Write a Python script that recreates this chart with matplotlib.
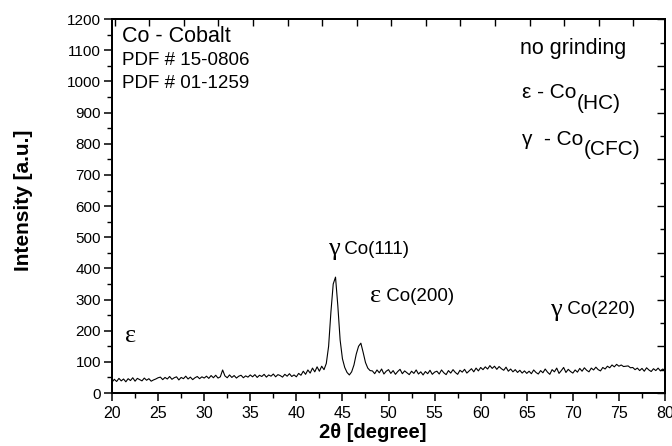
import numpy as np
import matplotlib
matplotlib.use("Agg")
import matplotlib.pyplot as plt
from matplotlib.ticker import MultipleLocator

plt.rcParams['font.family'] = ['Liberation Sans', 'DejaVu Sans']

# ---- data ----
two_theta = np.arange(20.0, 80.001, 0.25)
intensity = [
    # 20.00 - 25.00
    35, 44, 37, 47, 39, 45, 36, 46, 40, 49, 38, 47, 43, 39, 48, 41, 46, 38, 42, 45, 49,
    # 25.25 - 30.00
    51, 43, 50, 45, 53, 44, 49, 52, 42, 50, 46, 54, 45, 51, 43, 49, 53, 46, 52, 48,
    # 30.25 - 35.00
    54, 47, 56, 49, 57, 48, 52, 74, 55, 49, 58, 50, 56, 48, 54, 57, 49, 55, 51, 58,
    # 35.25 - 40.00
    52, 59, 50, 57, 53, 60, 51, 58, 54, 61, 52, 59, 56, 51, 60, 54, 62, 53, 58, 52,
    # 40.25 - 43.00
    63, 57, 70, 60, 74, 64, 80, 68, 84, 70, 86, 75,
    # 43.25 - 45.00
    95, 150, 260, 350, 372, 280, 170, 110,
    # 45.25 - 48.00
    82, 66, 58, 68, 90, 125, 150, 160, 130, 98, 80, 72,
    # 48.25 - 55.00
    71, 62, 74, 65, 77, 61, 70, 75, 63, 72, 60, 69, 76, 62, 71, 65, 59, 70, 63, 74,
    61, 68, 58, 69, 62, 73, 60, 67,
    # 55.25 - 60.00
    70, 61, 74, 65, 59, 72, 64, 75, 66, 60, 73, 67, 76, 64, 71, 78, 68, 80, 71, 82,
    # 60.25 - 65.00
    75, 84, 77, 88, 79, 86, 76, 85, 78, 73, 83, 70, 77, 68, 75, 66, 73, 64, 71, 63,
    # 65.25 - 70.00
    70, 62, 74, 66, 61, 72, 65, 77, 67, 60, 75, 68, 80, 63, 72, 82, 66, 76, 69, 64,
    # 70.25 - 75.00
    74, 67, 79, 70, 81, 73, 68, 80, 74, 83, 75, 71, 82, 77, 86, 81, 90, 84, 92, 86,
    # 75.25 - 80.00
    90, 85, 86, 87, 81, 82, 75, 80, 72, 79, 70, 81, 74, 69, 78, 72, 80, 71, 77, 73,
]

x_ticks = [20, 25, 30, 35, 40, 45, 50, 55, 60, 65, 70, 75, 80]
y_ticks = [0, 100, 200, 300, 400, 500, 600, 700, 800, 900, 1000, 1100, 1200]

# ---- figure ----
fig = plt.figure(figsize=(6.72, 4.46), dpi=100)
ax = fig.add_axes([0.1667, 0.1188, 0.8229, 0.8382])

ax.plot(two_theta, intensity, color='black', lw=0.8)

ax.set_xlim(20, 80)
ax.set_ylim(0, 1200)
ax.set_xticks(x_ticks)
ax.set_yticks(y_ticks)
ax.xaxis.set_minor_locator(MultipleLocator(2.5))
ax.yaxis.set_minor_locator(MultipleLocator(50))
ax.tick_params(axis='both', which='major', direction='out', length=6, width=1.1,
               top=False, right=False)
ax.tick_params(axis='both', which='minor', direction='out', length=3.5, width=1.0,
               top=False, right=False)
ax.tick_params(axis='x', labelsize=11.5, pad=3)
ax.tick_params(axis='y', labelsize=11, pad=2)
for s in ax.spines.values():
    s.set_linewidth(1.3)

# top ticks (inward)
axT = ax.twiny()
axT.set_xlim(20, 80)
axT.set_xticks(np.arange(20.3, 80, 3.75))
axT.tick_params(axis='x', direction='in', length=5, width=1.0, labeltop=False)
# right ticks (inward)
axR = ax.twinx()
axR.set_ylim(0, 1200)
axR.yaxis.set_major_locator(MultipleLocator(150))
axR.yaxis.set_minor_locator(MultipleLocator(75))
axR.tick_params(axis='y', which='major', direction='in', length=6, width=1.0, labelright=False)
axR.tick_params(axis='y', which='minor', direction='in', length=3.5, width=1.0)
for a in (axT, axR):
    for s in a.spines.values():
        s.set_linewidth(1.3)

ax.set_xlabel('2θ [degree]', fontsize=14.5, fontweight='bold')
ax.xaxis.set_label_coords(0.472, -0.08)
ax.set_ylabel('Intensity [a.u.]', fontsize=15, fontweight='bold')
ax.yaxis.set_label_coords(-0.143, 0.516)

# ---- annotations ----
ax.text(21.1, 1145, 'Co - Cobalt', fontsize=15.5, va='center', ha='left')
ax.text(21.1, 1068, 'PDF # 15-0806', fontsize=13.5, va='center', ha='left')
ax.text(21.1, 995, 'PDF # 01-1259', fontsize=13.5, va='center', ha='left')

ax.text(64.3, 1107, 'no grinding', fontsize=15.5, va='center', ha='left')

t1 = ax.text(64.5, 965, 'ε - Co', fontsize=15, va='center', ha='left')
ax.annotate('(HC)', xy=(1, 0), xycoords=t1, xytext=(0, 6), textcoords='offset points',
            fontsize=15, va='top', ha='left')
t2 = ax.text(64.5, 815, 'γ  - Co', fontsize=15, va='center', ha='left')
ax.annotate('(CFC)', xy=(1, 0), xycoords=t2, xytext=(0, 6), textcoords='offset points',
            fontsize=15, va='top', ha='left')

serif = ['Liberation Serif', 'DejaVu Serif']
g1 = ax.text(43.4, 462, 'γ', fontsize=19, family=serif, va='center', ha='left')
ax.annotate(' Co(111)', xy=(1, 0.5), xycoords=g1, va='center', ha='left', fontsize=13.5)
e1 = ax.text(48.0, 311, 'ε', fontsize=19, family=serif, va='center', ha='left')
ax.annotate(' Co(200)', xy=(1, 0.5), xycoords=e1, va='center', ha='left', fontsize=13.5)
g2 = ax.text(67.5, 268, 'γ', fontsize=19, family=serif, va='center', ha='left')
ax.annotate(' Co(220)', xy=(1, 0.5), xycoords=g2, va='center', ha='left', fontsize=13.5)
ax.text(21.4, 182, 'ε', fontsize=19, family=serif, va='center', ha='left')

fig.savefig('out.png', dpi=100)
